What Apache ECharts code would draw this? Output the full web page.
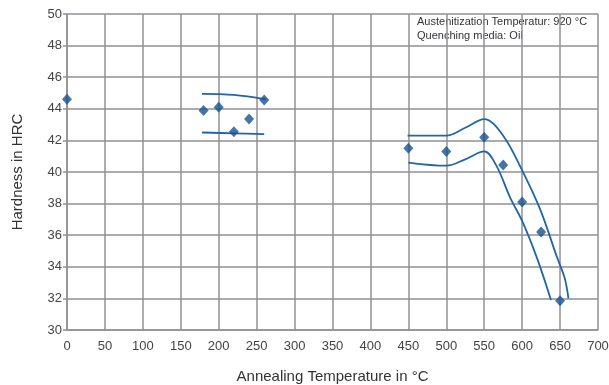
<!DOCTYPE html>
<html>
<head>
<meta charset="utf-8">
<script src="https://cdn.jsdelivr.net/npm/echarts@6/dist/echarts.min.js"></script>
<style>
  html, body { margin: 0; padding: 0; background: #fff; }
  #chart { width: 609px; height: 385px; }
</style>
</head>
<body>
<div id="chart"></div>
<script>
// measured points
const temps = [0, 180, 200, 220, 240, 260, 450, 500, 550, 575, 600, 625, 650]
const hardness = [44.6, 43.9, 44.1, 42.55, 43.35, 44.55, 41.5, 41.3, 42.2, 40.45, 38.1, 36.2, 31.85]

// scatter band curves, [temperature, hardness]
const lowBandUpper = [[178, 44.95], [220, 44.88], [262, 44.6]]
const lowBandLower = [[178, 42.5], [220, 42.45], [260, 42.4]]
const highBandUpper = [[449, 42.3], [500, 42.3], [525, 42.8], [550, 43.35], [575, 42.3], [600, 40.1],
  [624, 37.6], [646, 34.6], [656, 33.3], [661, 32.0]]
const highBandLower = [[450, 40.6], [500, 40.4], [525, 40.8], [550, 41.3], [566, 40.4], [584, 38.4],
  [601, 36.8], [620, 34.5], [638, 31.9]]

const noteLines = ['Austenitization Temperatur: 920 °C', 'Quenching media: Oil']

const gridColor = '#909096'
const lineColor = '#2066a6'
const dotColor = '#17528e'

const chart = echarts.init(document.getElementById('chart'))

const band = data => ({
  type: 'line',
  data,
  smooth: 0.35,
  showSymbol: false,
  silent: true,
  lineStyle: { color: lineColor, width: 1.8 },
  z: 2
})

chart.setOption({
  animation: false,
  textStyle: { fontFamily: 'Liberation Sans, Arial, sans-serif' },
  grid: { left: 67, right: 11, top: 14, bottom: 55, outerBoundsMode: 'none' },
  xAxis: {
    type: 'value',
    min: 0,
    max: 700,
    interval: 50,
    name: 'Annealing Temperature in °C',
    nameLocation: 'middle',
    nameGap: 39,
    nameTextStyle: { color: '#333', fontSize: 15 },
    axisLine: { lineStyle: { color: gridColor, width: 1.5 } },
    axisTick: { show: false },
    axisLabel: { color: '#444', fontSize: 13, margin: 10 },
    splitLine: { show: true, lineStyle: { color: gridColor, width: 1.5 } }
  },
  yAxis: {
    type: 'value',
    min: 30,
    max: 50,
    interval: 2,
    name: 'Hardness in HRC',
    nameLocation: 'middle',
    nameGap: 42,
    nameTextStyle: { color: '#333', fontSize: 15 },
    axisLine: { show: true, lineStyle: { color: gridColor, width: 1.5 } },
    axisTick: { show: true, length: 4, lineStyle: { color: gridColor, width: 1.5 } },
    axisLabel: { color: '#444', fontSize: 13, margin: 5 },
    splitLine: { show: true, lineStyle: { color: gridColor, width: 1.5 } }
  },
  series: [
    band(lowBandUpper),
    band(lowBandLower),
    band(highBandUpper),
    band(highBandLower),
    {
      type: 'scatter',
      data: temps.map((t, i) => [t, hardness[i]]),
      symbol: 'diamond',
      symbolSize: [10, 11],
      itemStyle: { color: dotColor },
      z: 3
    }
  ],
  graphic: [
    {
      type: 'text',
      left: 417,
      top: 15,
      style: {
        text: noteLines.join('\n'),
        fill: '#333',
        font: '11px Liberation Sans, Arial, sans-serif',
        lineHeight: 14
      }
    }
  ]
})
</script>
</body>
</html>
